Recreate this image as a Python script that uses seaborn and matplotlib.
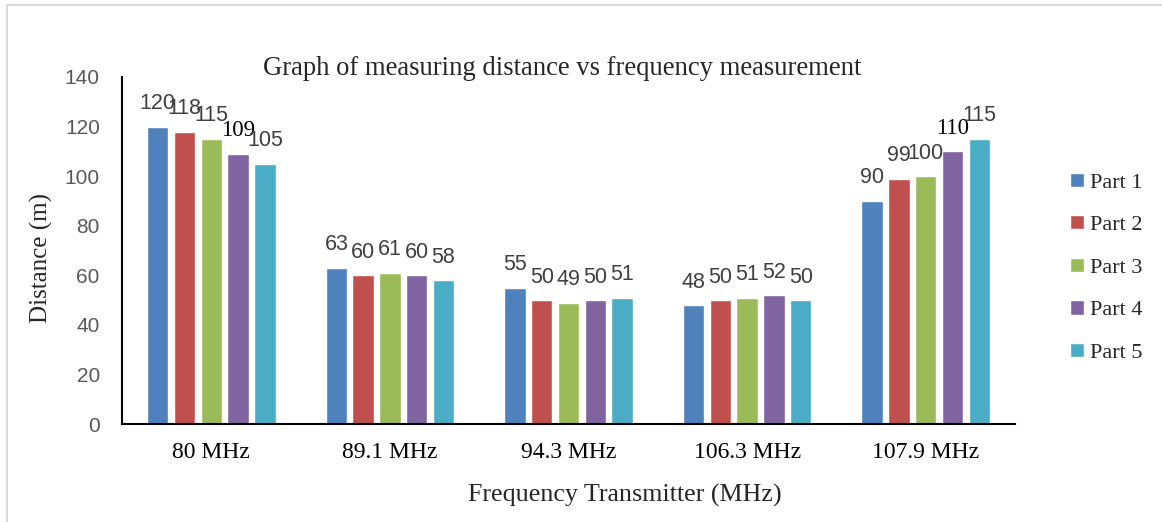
import matplotlib
matplotlib.use("Agg")
import matplotlib.pyplot as plt
import seaborn as sns
import pandas as pd
from matplotlib.patches import Rectangle

categories = ["80 MHz", "89.1 MHz", "94.3 MHz", "106.3 MHz", "107.9 MHz"]
series_names = ["Part 1", "Part 2", "Part 3", "Part 4", "Part 5"]
part1 = [120, 63, 55, 48, 90]
part2 = [118, 60, 50, 50, 99]
part3 = [115, 61, 49, 51, 100]
part4 = [109, 60, 50, 52, 110]
part5 = [105, 58, 51, 50, 115]
y_ticks = [0, 20, 40, 60, 80, 100, 120, 140]
colors = ["#4F81BD", "#C0504D", "#9BBB59", "#8064A2", "#4BACC6"]

rows = []
for name, vals in zip(series_names, [part1, part2, part3, part4, part5]):
    for c, v in zip(categories, vals):
        rows.append({"Frequency": c, "Part": name, "Distance": v})
df = pd.DataFrame(rows)

sns.set_style("white")
serif = "Liberation Serif"
sans = "Liberation Sans"

fig = plt.figure(figsize=(11.62, 5.22), dpi=100)
ax = fig.add_axes([0.105, 0.1877, 0.7685, 0.6648])

sns.barplot(data=df, x="Frequency", y="Distance", hue="Part", order=categories,
            hue_order=series_names, palette=colors, width=0.75, gap=0.2,
            saturation=1, ax=ax, legend=True, errorbar=None)

for si, cont in enumerate(ax.containers):
    texts = ax.bar_label(cont, labels=[f"{int(v)}" for v in cont.datavalues],
                         padding=9, fontsize=15.5, family=sans, color="#404040")
    # the Part 4 labels at 80 MHz and 107.9 MHz are set in a serif face
    if si == 3:
        for ci in (0, 4):
            texts[ci].set_family(serif)
            texts[ci].set_fontsize(16.5)
            texts[ci].set_color("black")

ax.set_ylim(0, 140)
ax.set_yticks(y_ticks)
ax.set_xlim(-0.5, len(categories) - 0.5)
ax.tick_params(axis="y", length=0, pad=16, labelsize=15, labelcolor="#595959")
ax.tick_params(axis="x", length=0, pad=13, labelsize=17)
for lab in ax.get_yticklabels():
    lab.set_family(sans)
for lab in ax.get_xticklabels():
    lab.set_family(serif)
    lab.set_color("black")

for s in ["top", "right"]:
    ax.spines[s].set_visible(False)
for s in ["left", "bottom"]:
    ax.spines[s].set_color("black")
    ax.spines[s].set_linewidth(1.5)

ax.set_xlabel("")
ax.set_ylabel("")
fig.text(0.538, 0.05, "Frequency Transmitter (MHz)", ha="center", va="center",
         fontsize=18.7, family=serif)
fig.text(0.036, 0.505, "Distance (m)", ha="center", va="center", rotation=90,
         fontsize=18, family=serif)
fig.text(0.484, 0.868, "Graph of measuring distance vs frequency measurement",
         ha="center", va="center", fontsize=19.2, family=serif)

handles, labels = ax.get_legend_handles_labels()
ax.legend(handles, labels, loc="center left", bbox_to_anchor=(0.921, 0.487),
          bbox_transform=fig.transFigure, frameon=False,
          prop={"family": serif, "size": 16}, handlelength=0.6, handleheight=0.6,
          handletextpad=0.3, labelspacing=1.02, borderaxespad=0, borderpad=0)

fig.patches.append(Rectangle((7 / 1162, -0.01), 1.0, 1 - 5 / 522 + 0.01,
                             transform=fig.transFigure, fill=False,
                             edgecolor="#D9D9D9", linewidth=1.5))

fig.savefig("out.png", dpi=100, facecolor="white")
